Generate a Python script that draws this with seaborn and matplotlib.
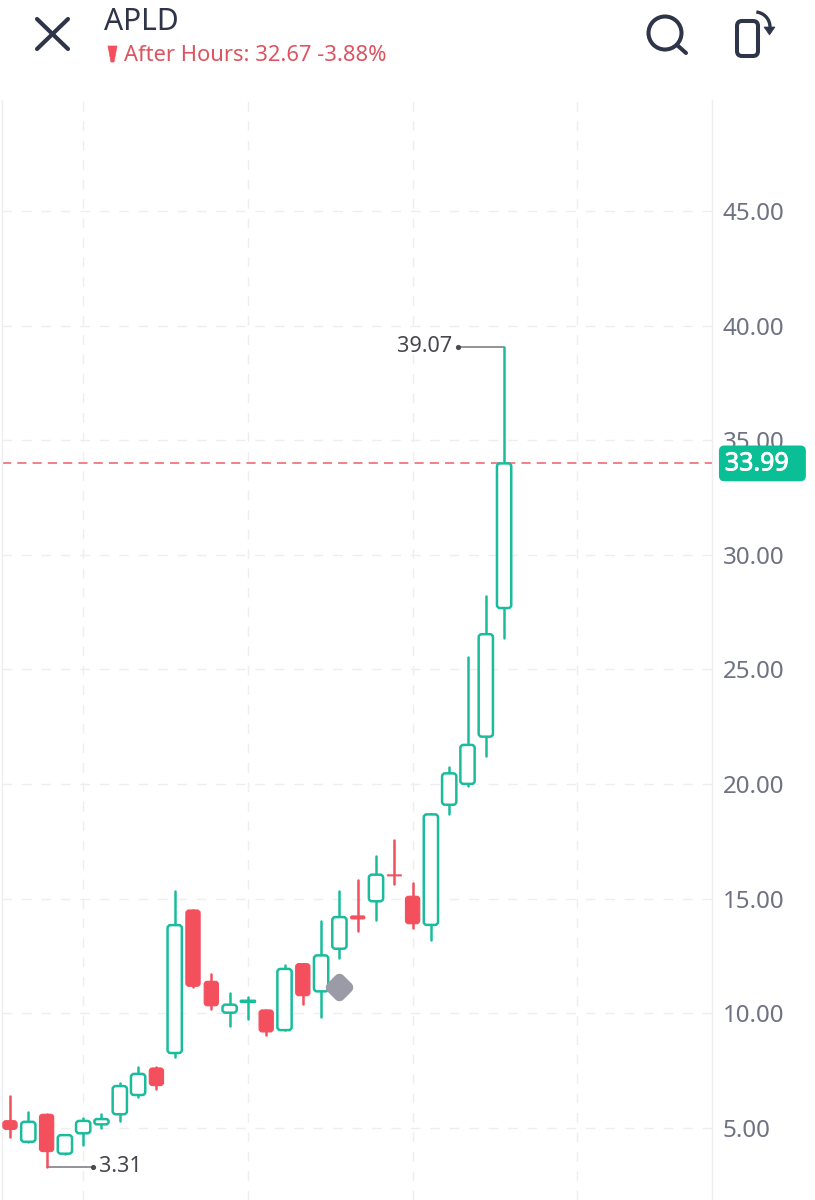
import matplotlib
matplotlib.use('Agg')
import matplotlib.pyplot as plt
import matplotlib.patheffects as pe
import numpy as np
import pandas as pd
import seaborn as sns
from matplotlib.patches import Arc, Circle, FancyBboxPatch, Polygon

# Candles
opens = [5.32, 4.40, 5.60, 3.88, 4.77, 5.16, 5.60, 6.44, 7.62, 8.27, 14.51, 11.40, 10.03, 10.50,
         10.15, 9.27, 12.17, 10.96, 12.82, 14.25, 14.89, 16.04, 15.11, 13.86, 19.10, 20.01, 22.07, 27.68]
closes = [4.94, 5.27, 3.97, 4.69, 5.31, 5.39, 6.83, 7.36, 6.85, 13.85, 11.18, 10.33, 10.38, 10.55,
          9.19, 11.94, 10.77, 12.53, 14.20, 14.12, 16.05, 16.00, 13.91, 18.68, 20.47, 21.71, 26.54, 33.99]
highs = [6.41, 5.70, 5.60, 4.69, 5.44, 5.61, 6.95, 7.65, 7.66, 15.35, 14.51, 11.72, 10.90, 10.70,
         10.15, 12.10, 12.17, 14.02, 15.33, 15.80, 16.86, 17.56, 15.67, 18.68, 20.76, 25.56, 28.21, 39.07]
lows = [4.62, 4.40, 3.31, 3.88, 4.26, 4.99, 5.31, 6.37, 6.70, 8.08, 11.14, 10.18, 9.46, 9.75,
        9.07, 9.27, 10.40, 9.84, 12.40, 13.59, 14.09, 15.63, 13.71, 13.20, 18.70, 19.92, 21.24, 26.36]
price_ticks = [5, 10, 15, 20, 25, 30, 35, 40, 45]
time_ticks = [4, 13, 22, 31]
last_price = 33.99
high_idx, high_val = 27, 39.07
low_idx, low_val = 2, 3.31
marker_idx, marker_val = 18, 11.16

GREEN = '#1ABC9C'
RED = '#F34F5D'
GRID = '#EEEEF1'
INK = '#2F3548'

sns.set_theme(style='white')
plt.rcParams['font.family'] = ['Noto Sans', 'DejaVu Sans']

fig = plt.figure(figsize=(8.15, 12), dpi=100)
ax = fig.add_axes([2 / 815, 0, 710 / 815, 1100 / 1200])
ax.set_xlim(-0.437, 38.36)
ax.set_ylim(1.86, 49.84)

# Wicks
candles = pd.DataFrame({'candle': range(len(opens)), 'open': opens, 'close': closes, 'high': highs, 'low': lows})
candles['side'] = np.where(candles['close'] >= candles['open'], 'up', 'down')
wicks = candles.melt(id_vars=['candle', 'side'], value_vars=['high', 'low'], value_name='price')
sns.lineplot(data=wicks, x='candle', y='price', hue='side', units='candle', estimator=None,
             palette={'up': GREEN, 'down': RED}, linewidth=1.8, legend=False, ax=ax, zorder=3)

# Bodies
aspect = 18.3 / 22.925
half = 0.39
for row in candles.itertuples():
    body_top = max(row.open, row.close)
    body_bot = min(row.open, row.close)
    rounding = min(0.17, (body_top - body_bot) / 2 / aspect)
    up = row.side == 'up'
    ax.add_patch(FancyBboxPatch((row.candle - half, body_bot), 2 * half, body_top - body_bot,
                                boxstyle=f'round,pad=0,rounding_size={rounding}',
                                mutation_aspect=aspect,
                                facecolor='white' if up else RED,
                                edgecolor=GREEN if up else RED,
                                linewidth=1.8 if up else 0.8, zorder=4))

ax.set_xticks(time_ticks)
ax.set_yticks(price_ticks)
ax.set_yticklabels([f'{p:.2f}' for p in price_ticks])
ax.set_xlabel('')
ax.set_ylabel('')
ax.tick_params(axis='x', length=0, labelbottom=False)
ax.yaxis.tick_right()
ax.tick_params(axis='y', length=0, pad=7.5, labelsize=17.4, labelcolor='#6E7282')
ax.grid(True, color=GRID, linewidth=1, linestyle=(0, (7, 7)), zorder=0)
ax.set_axisbelow(True)
for side in ['top', 'bottom']:
    ax.spines[side].set_visible(False)
for side in ['left', 'right']:
    ax.spines[side].set_color('#EEEEF1')
    ax.spines[side].set_linewidth(1)

# Last price line and badge
ax.axhline(last_price, color='#EC5F6C', linewidth=1.1, linestyle=(0, (6, 4)), zorder=2)
badge_x = 38.74
ax.add_patch(FancyBboxPatch((badge_x, last_price - 0.78), 4.75, 1.56,
                            boxstyle='round,pad=0,rounding_size=0.3', mutation_aspect=aspect,
                            facecolor='#0ABF96', edgecolor='none', clip_on=False, zorder=6))
price_label = ax.text(badge_x + 0.32, last_price - 0.02, f'{last_price:.2f}', color='white', fontsize=18,
                      va='center', ha='left', clip_on=False, zorder=7)
price_label.set_path_effects([pe.withStroke(linewidth=0.6, foreground='white')])

# High / low callouts
for idx, val, offset, ha in [(high_idx, high_val, -2.52, 'right'), (low_idx, low_val, 2.52, 'left')]:
    sns.lineplot(x=[idx, idx + offset], y=[val, val], color='#77777C', linewidth=1.1, ax=ax, zorder=2, sort=False)
    ax.scatter([idx + offset], [val], s=14, color='#4A4A50', zorder=5, linewidths=0)
    ax.text(idx + offset + (0.36 if ha == 'left' else -0.30), val, f'{val:.2f}', color='#46474E', fontsize=15.6,
            ha=ha, va='center', zorder=5)

# Event marker
dot = ax.scatter([marker_idx], [marker_val], marker='D', s=70, color='#9A9BA7', linewidths=8,
                 edgecolors='#9A9BA7', zorder=6)
dot.set_joinstyle('round')

# Header drawn in pixel coordinates
head = fig.add_axes([0, 0, 1, 1], facecolor='none')
head.set_xlim(0, 815)
head.set_ylim(1200, 0)
head.axis('off')
head.plot([37, 68], [19, 49], color=INK, linewidth=3, solid_capstyle='round')
head.plot([68, 37], [19, 49], color=INK, linewidth=3, solid_capstyle='round')
head.text(104, 30, 'APLD', color=INK, fontsize=21.6, va='baseline', ha='left')
head.add_patch(Polygon([(108, 46), (117, 46), (114, 62), (111, 62)], closed=True, facecolor=RED, edgecolor=RED,
                       linewidth=0.5, joinstyle='round'))
head.text(124, 61, 'After Hours: 32.67 -3.88%', color='#DD5360', fontsize=15.8, va='baseline', ha='left')
head.add_patch(Circle((665, 33), 16.5, fill=False, edgecolor=INK, linewidth=2.9))
head.plot([677, 686], [45, 53], color=INK, linewidth=2.9, solid_capstyle='round')
head.add_patch(FancyBboxPatch((737, 21), 21, 35, boxstyle='round,pad=0,rounding_size=5', fill=False,
                              edgecolor=INK, linewidth=2.9))
head.add_patch(Arc((755, 27), 30, 30, theta1=-85, theta2=0, edgecolor=INK, linewidth=2.4))
head.add_patch(Polygon([(764, 27), (775, 27), (769.5, 35)], closed=True, facecolor=INK, edgecolor=INK, linewidth=0.5))

fig.savefig('out.png', dpi=100, facecolor='white')
